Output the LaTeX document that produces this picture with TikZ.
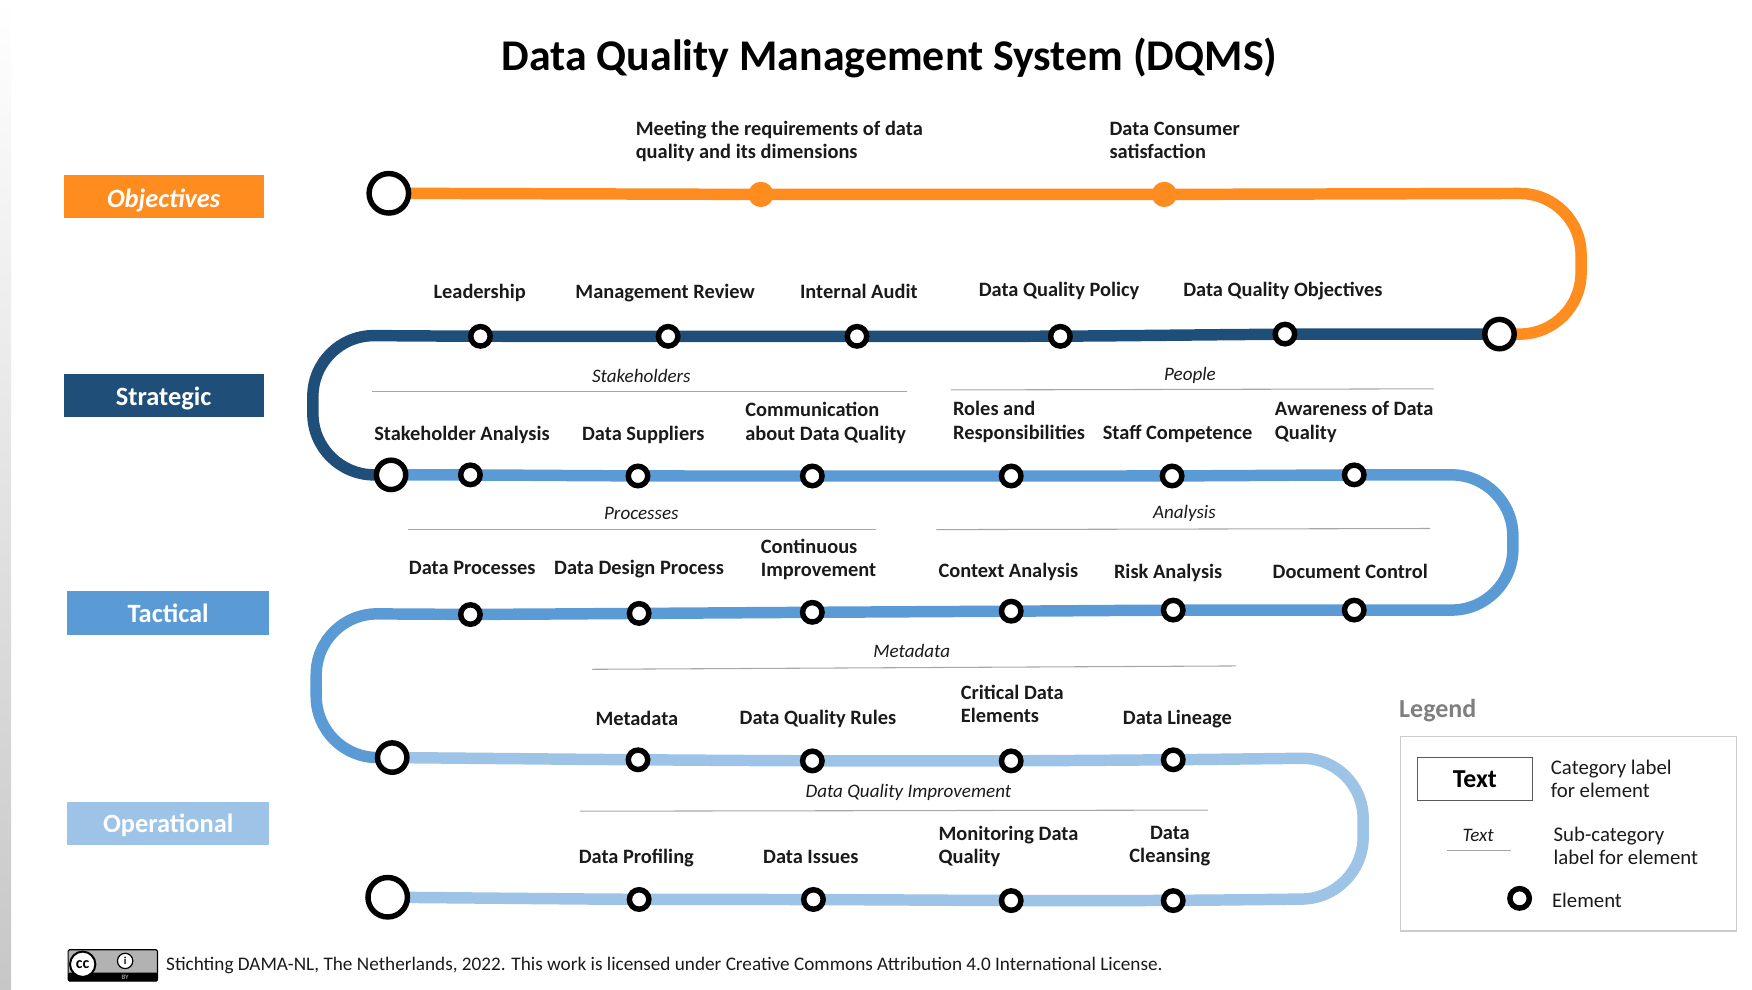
\documentclass[tikz,border=0pt]{standalone}
\usepackage{fontspec}
\setmainfont{Carlito}
\usetikzlibrary{backgrounds}
\definecolor{cOrange}{HTML}{FF8C1F}
\definecolor{cDark}{HTML}{1F4E79}
\definecolor{cMid}{HTML}{5B9BD5}
\definecolor{cLight}{HTML}{9DC3E6}
\definecolor{cRule}{HTML}{A6A6A6}
\definecolor{cLegend}{HTML}{7F7F7F}
\definecolor{cText}{HTML}{1A1A1A}
\tikzset{
  x=0.838pt,y=-0.838pt,
  elem/.style={circle,draw=black,fill=white,line width=4.1pt,minimum size=14.6pt,inner sep=0pt,outer sep=0pt},
  bigA/.style={elem,minimum size=29.6pt},
  bigB/.style={elem,minimum size=22pt},
  dot/.style={circle,fill=cOrange,minimum size=19pt,inner sep=0pt,outer sep=0pt},
  track/.style={line width=8.6pt,rounded corners=46pt},
  cat/.style={minimum width=150pt,minimum height=32.7pt,inner sep=0pt,outer sep=0pt,text=white,font=\fontsize{19.8}{22}\selectfont\bfseries},
  lab/.style={anchor=base west,align=left,inner sep=0pt,outer sep=0pt,text=cText,font=\fontsize{15.3}{17.6}\selectfont\bfseries},
  labc/.style={lab,anchor=base,align=center},
  sub/.style={anchor=base,inner sep=0pt,outer sep=0pt,text=cText,font=\fontsize{14.3}{16}\selectfont\itshape},
  rulel/.style={draw=cRule,line width=0.8pt},
  leg/.style={anchor=base west,align=left,inner sep=0pt,outer sep=0pt,text=cText,font=\fontsize{15.6}{17.6}\selectfont},
}
\begin{document}
\begin{tikzpicture}
\useasboundingbox (0,0) rectangle (1568,886);
% left strip
\shade[top color=white,bottom color=black!22] (0,0) rectangle (10,886);
% title
\node[anchor=base,inner sep=0pt,font=\fontsize{32.9}{36}\selectfont\bfseries] (title) at (796,63) {Data Quality Management System (DQMS)};
% category boxes
\node[cat,fill=cOrange,text depth=0pt,text height=0pt,font=\fontsize{19.8}{22}\selectfont\bfseries\itshape] (cObj) at (146.5,176) {\raisebox{-8pt}{Objectives}};
\node[cat,fill=cDark,text depth=0pt,text height=0pt] (cStr) at (146.5,354) {\raisebox{-7.5pt}{Strategic}};
\node[cat,fill=cMid,minimum width=151.5pt] (cTac) at (150.5,548.5) {Tactical};
\node[cat,fill=cLight,minimum width=151.5pt,text depth=0pt,text height=0pt] (cOpe) at (150.5,737) {\raisebox{-6.5pt}{Operational}};
% elements
\node[bigA] (o0) at (348,173) {};
\node[dot] (o1) at (681,174) {};
\node[dot] (o2) at (1042,174) {};
\node[bigB] (s0) at (1342,299) {};
\foreach \n/\x/\y in {s1/1150/299,s2/949/301,s3/767/301,s4/598/301,s5/430/301,
  m1/421/425,m2/571/426,m3/727/426,m4/905/426,m5/1049/426,m6/1212/425,
  t1/1212/546,t2/1050/546,t3/905/547,t4/727/548,t5/572/549,t6/421/550,
  d1/571/680,d2/727/681,d3/905/681,d4/1050/680,
  e1/1050/806,e2/905/806,e3/728/805,e4/572/805}
  \node[elem] (\n) at (\x,\y) {};
\node[bigB] (m0) at (350,425) {};
\node[bigB] (d0) at (351,678) {};
\node[bigA] (e0) at (347,803) {};
% tracks
\begin{pgfonlayer}{background}
\draw[track,cOrange] (o0.center) -- (o1.center) -- (o2.center) -- (1415,173) -- (1415,299) -- (s0.center);
\draw[track,cDark] (s0.center) -- (s1.center) -- (s2.center) -- (s3.center) -- (s4.center) -- (s5.center) -- (280,300) -- (280,425) -- (m0.center);
\draw[track,cMid] (m0.center) -- (m1.center) -- (m2.center) -- (m3.center) -- (m4.center) -- (m5.center) -- (m6.center) -- (1354,425) -- (1354,546) -- (t1.center) -- (t2.center) -- (t3.center) -- (t4.center) -- (t5.center) -- (t6.center) -- (283,549) -- (283,678) -- (d0.center);
\draw[track,cLight] (d0.center) -- (d1.center) -- (d2.center) -- (d3.center) -- (d4.center) -- (1220,678) -- (1220,804) -- (e1.center) -- (e2.center) -- (e3.center) -- (e4.center) -- (e0.center);
\end{pgfonlayer}
% labels
\node[lab] (l1) at (569,142) {Meeting the requirements of data\\quality and its dimensions};
\node[lab] (l2) at (993,142) {Data Consumer\\satisfaction};
\node[lab] (l3) at (388,267.5) {Leadership};
\node[lab] (l4) at (515,267.5) {Management Review};
\node[lab] (l5) at (716,267.5) {Internal Audit};
\node[lab] (l6) at (876,265) {Data Quality Policy};
\node[lab] (l7) at (1059,265) {Data Quality Objectives};
\node[lab] (l8) at (335,394.5) {Stakeholder Analysis};
\node[lab] (l9) at (521,394.5) {Data Suppliers};
\node[lab] (l10) at (667,394) {Communication\\about Data Quality};
\node[lab] (l11) at (853,393) {Roles and\\Responsibilities};
\node[lab] (l12) at (987,393) {Staff Competence};
\node[lab] (l13) at (1141,393) {Awareness of Data\\Quality};
\node[lab] (l14) at (366,514.5) {Data Processes};
\node[lab] (l15) at (496,514.5) {Data Design Process};
\node[lab] (l16) at (681,516) {Continuous\\Improvement};
\node[lab] (l17) at (840,516.5) {Context Analysis};
\node[lab] (l18) at (997,517.5) {Risk Analysis};
\node[lab] (l19) at (1139,517.5) {Document Control};
\node[lab] (l20) at (533,649) {Metadata};
\node[lab] (l21) at (662,648) {Data Quality Rules};
\node[lab] (l22) at (860,647) {Critical Data\\Elements};
\node[lab] (l23) at (1005,648) {Data Lineage};
\node[lab] (l24) at (518,773) {Data Profiling};
\node[lab] (l25) at (683,773) {Data Issues};
\node[lab] (l26) at (840,773) {Monitoring Data\\Quality};
\node[labc] (l27) at (1047,772) {Data\\Cleansing};
% sub-categories
\node[sub] (h1) at (574,342) {Stakeholders};
\draw[rulel] (333,350) coordinate (h1a) -- (812,350) coordinate (h1b);
\node[sub] (h2) at (1065,340.5) {People};
\draw[rulel] (851,349) coordinate (h2a) -- (1283,348) coordinate (h2b);
\node[sub] (h3) at (574,465) {Processes};
\draw[rulel] (365,474) coordinate (h3a) -- (784,474) coordinate (h3b);
\node[sub] (h4) at (1060,464) {Analysis};
\draw[rulel] (838,474) coordinate (h4a) -- (1280,473) coordinate (h4b);
\node[sub] (h5) at (816,588) {Metadata};
\draw[rulel] (530,599) coordinate (h5a) -- (1106,596) coordinate (h5b);
\node[sub] (h6) at (813,713.5) {Data Quality Improvement};
\draw[rulel] (519,726) coordinate (h6a) -- (1081,725) coordinate (h6b);
% legend
\node[anchor=base west,inner sep=0pt,text=cLegend,font=\fontsize{19.5}{22}\selectfont\bfseries] (legT) at (1252,642.5) {Legend};
\node[draw=black!20,line width=1pt,minimum width=252pt,minimum height=146pt,inner sep=0pt] (legB) at (1403.5,746) {};
\node[draw=black!65,line width=0.9pt,minimum width=86pt,minimum height=32.5pt,inner sep=0pt,font=\fontsize{19.4}{22}\selectfont\bfseries] (legC) at (1320,697) {Text};
\node[leg] (leg1) at (1388,714) {Category label\\for element};
\node[sub] (legS) at (1323,753) {Text};
\draw[rulel] (1295,761) -- (1352,761);
\node[leg] (leg2) at (1390.5,774) {Sub-category\\label for element};
\node[elem] (legE) at (1360,804) {};
\node[leg] (leg3) at (1389,812.5) {Element};
% footer
\node[draw=black,line width=0.8pt,fill=black!30,rounded corners=1pt,minimum width=67pt,minimum height=23.5pt,inner sep=0pt] (cc) at (101,864) {};
\fill[black,rounded corners=1pt] (61,870.5) rectangle (141,878);
\node[circle,draw=black,fill=white,line width=1.5pt,minimum size=19pt,inner sep=0pt,font=\fontsize{12}{12}\selectfont\bfseries] (ccA) at (74,863) {cc};
\node[circle,draw=black,fill=white,line width=0.9pt,minimum size=11.5pt,inner sep=0pt,font=\fontsize{8}{8}\selectfont\bfseries] (ccB) at (112,860) {i};
\node[text=black!40,inner sep=0pt,font=\fontsize{5}{5}\selectfont\bfseries] (ccC) at (112,874.5) {BY};
\node[anchor=base west,inner sep=0pt,text=cText,font=\fontsize{14.4}{16}\selectfont] (foot) at (148.5,869) {Stichting DAMA-NL, The Netherlands, 2022. This work is licensed under Creative Commons Attribution 4.0 International License.};
\end{tikzpicture}
\end{document}
